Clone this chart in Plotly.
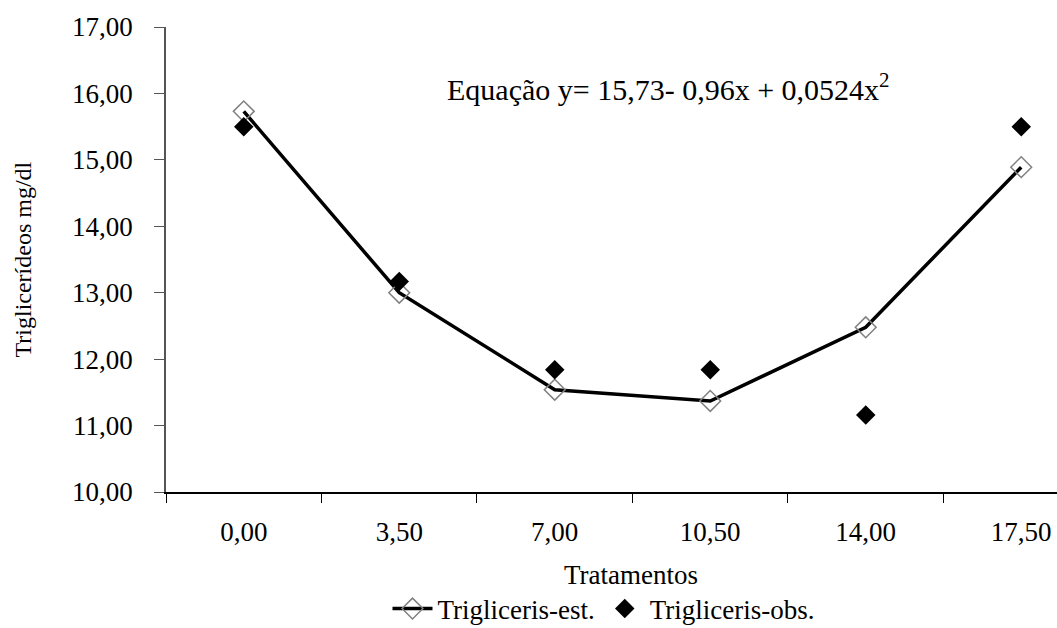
import plotly.graph_objects as go

categories = ["0,00", "3,50", "7,00", "10,50", "14,00", "17,50"]
est_values = [15.73, 13.00, 11.54, 11.37, 12.48, 14.89]
obs_values = [15.50, 13.17, 11.84, 11.84, 11.16, 15.50]
y_ticks = [10, 11, 12, 13, 14, 15, 16, 17]
y_tick_labels = ["10,00", "11,00", "12,00", "13,00", "14,00", "15,00", "16,00", "17,00"]

FONT = "Liberation Serif, Times New Roman, DejaVu Serif, serif"

W, H = 1057, 628
L, T, B = 166, 27, 136
plot_w = W - L
plot_h = H - T - B

fig = go.Figure()
fig.add_trace(go.Scatter(
    x=categories, y=est_values, mode="lines+markers", name="Trigliceris-est.",
    line=dict(color="black", width=3.5),
    marker=dict(symbol="diamond-open", size=16, color="#808080", line=dict(width=1.5, color="#808080")),
))
fig.add_trace(go.Scatter(
    x=categories, y=obs_values, mode="markers", name="Trigliceris-obs.",
    marker=dict(symbol="diamond", size=15, color="black"),
))

fig.add_annotation(
    text="Equação y= 15,73- 0,96x + 0,0524x<sup>2</sup>",
    x=(668 - L) / plot_w, xref="paper", y=16.1, yref="y", xanchor="center", yanchor="middle",
    showarrow=False, font=dict(family=FONT, size=30, color="black"),
)

fig.add_annotation(
    text="Triglicerídeos mg/dl", textangle=-90,
    x=(22 - L) / plot_w, xref="paper", y=0.5, yref="paper",
    xanchor="center", yanchor="middle", showarrow=False,
    font=dict(family=FONT, size=24, color="black"),
)

fig.add_annotation(
    text="Tratamentos",
    x=(631 - L) / plot_w, xref="paper",
    y=-83 / plot_h, yref="paper", xanchor="center", yanchor="middle",
    showarrow=False, font=dict(family=FONT, size=27, color="black"),
)

fig.update_layout(
    width=W, height=H,
    margin=dict(l=L, r=0, t=T, b=B, autoexpand=False),
    paper_bgcolor="white", plot_bgcolor="white",
    font=dict(family=FONT, size=26, color="black"),
    showlegend=True,
    legend=dict(orientation="h", x=604 / W, xanchor="center", xref="container",
                y=19 / H, yanchor="middle", yref="container",
                font=dict(family=FONT, size=27),
                itemwidth=40, tracegroupgap=0),
    xaxis=dict(
        type="category", range=[-0.5, 5.23], tickson="boundaries", automargin=False,
        showline=True, linecolor="black", linewidth=1.5,
        ticks="outside", ticklen=9, tickcolor="black", tickwidth=1,
        showgrid=False, zeroline=False, ticklabelstandoff=15,
        tickfont=dict(family=FONT, size=27),
    ),
    yaxis=dict(
        range=[10, 17], tickvals=y_ticks, ticktext=y_tick_labels, automargin=False,
        showline=True, linecolor="#555555", linewidth=1.5,
        ticks="outside", ticklen=10, tickcolor="#555555", tickwidth=1,
        showgrid=False, zeroline=False, ticklabelstandoff=16,
        tickfont=dict(family=FONT, size=27),
    ),
)

fig.write_html("out.html", config={"displayModeBar": False},
               post_script="document.body.style.margin='0';")
